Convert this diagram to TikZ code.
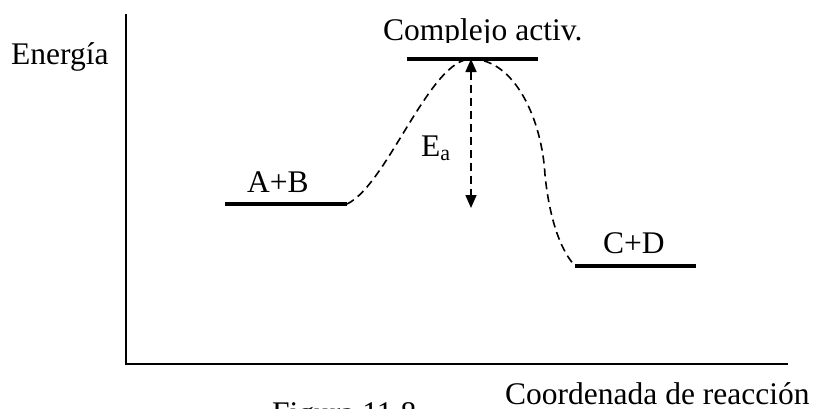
\documentclass[tikz,border=0pt]{standalone}
\usepackage{fontspec}
\setmainfont{Liberation Serif}
\usetikzlibrary{arrows.meta}
\begin{document}
\begin{tikzpicture}[x=1pt,y=-1pt,
  lbl/.style={anchor=base west, inner sep=0pt, font=\fontsize{31.5}{36}\selectfont},
  axisline/.style={line width=2pt},
  energylevel/.style={line width=3.5pt},
  rxpath/.style={line width=1.6pt, dash pattern=on 8pt off 5pt},
  eaarrow/.style={line width=1.6pt, dash pattern=on 8pt off 5pt,
    {Triangle[length=13pt,width=11pt]}-{Triangle[length=13pt,width=11pt]}}
]
\useasboundingbox (0,0) rectangle (817,408);
\clip (0,0) rectangle (817,408);

% axes
\coordinate (O) at (126,364);
\coordinate (Ytop) at (126,14);
\coordinate (Xend) at (788,364);
\draw[axisline] (Ytop) -- (O) -- (Xend);

% energy levels
\coordinate (ABl) at (225,204);
\coordinate (ABr) at (347,204);
\coordinate (TSl) at (407,59);
\coordinate (TSr) at (538,59);
\coordinate (CDl) at (575,266);
\coordinate (CDr) at (696,266);
\draw[energylevel] (ABl) -- (ABr);
\draw[energylevel] (TSl) -- (TSr);
\draw[energylevel] (CDl) -- (CDr);

% reaction path
\coordinate (peak) at (471,59);
\coordinate (bend) at (545,175);
\coordinate (eabot) at (471,208);
\draw[rxpath] (ABr) .. controls (387,185) and (430,59) .. (peak)
  .. controls (515,59) and (542,120) .. (bend)
  .. controls (548,205) and (556,245) .. (CDl);

% activation energy arrow
\draw[eaarrow] (peak) -- (eabot);

% labels
\node[lbl] (energia) at (11,64) {Energía};
\begin{scope}
  \clip (370,0) rectangle (640,42);
  \node[lbl] (complejo) at (383,40) {Complejo activ.};
\end{scope}
\node[lbl] (ab) at (247,192) {A+B};
\node[lbl] (cd) at (603,253) {C+D};
\node[lbl] (ea) at (421,156) {E\raisebox{-4pt}{\fontsize{22}{22}\selectfont a}};
\node[lbl] (coord) at (505,404) {Coordenada de reacción};
\node[lbl] (fig) at (272,423) {Figura 11.8};
\end{tikzpicture}
\end{document}
